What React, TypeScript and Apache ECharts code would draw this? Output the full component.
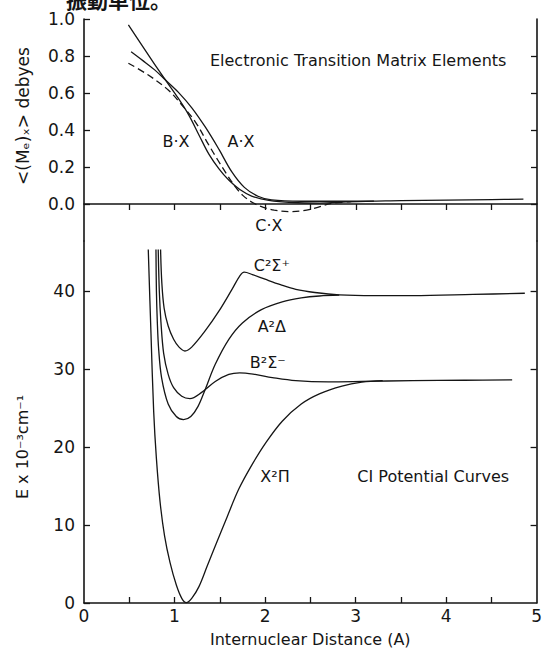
import React, { useEffect, useRef } from 'react';
import * as echarts from 'echarts';

// ---- axis ticks / labels ----
const xTickValues = [0.5, 1, 1.5, 2, 2.5, 3, 3.5, 4, 4.5];
const xLabelValues = [0, 1, 2, 3, 4, 5];
const topLabelValues = [0, 0.2, 0.4, 0.6, 0.8, 1.0];
const topRightTicks = [0, 0.2, 0.4, 0.6, 0.8];
const bottomLabelValues = [0, 10, 20, 30, 40];

// ---- top panel: electronic transition matrix elements (debyes) ----
const axData: [number, number][] = [
  [0.52, 0.823], [0.65, 0.775], [0.78, 0.725], [0.9, 0.67], [1.04, 0.605],
  [1.19, 0.52], [1.34, 0.415], [1.49, 0.295], [1.63, 0.175], [1.77, 0.09],
  [1.92, 0.042], [2.07, 0.022], [2.4, 0.015], [3.0, 0.015], [3.5, 0.018],
  [4.0, 0.021], [4.5, 0.024], [4.85, 0.026],
];
const bxData: [number, number][] = [
  [0.49, 0.968], [0.64, 0.858], [0.78, 0.755], [0.9, 0.67], [1.04, 0.572],
  [1.16, 0.478], [1.27, 0.372], [1.38, 0.268], [1.49, 0.19], [1.6, 0.128],
  [1.72, 0.078], [1.85, 0.043], [2.04, 0.02], [2.3, 0.008], [2.6, 0.005],
  [2.9, 0.011], [3.2, 0.016],
];
const cxData: [number, number][] = [
  [0.49, 0.761], [0.71, 0.697], [0.93, 0.616], [1.08, 0.535], [1.23, 0.443],
  [1.37, 0.325], [1.48, 0.235], [1.57, 0.165], [1.66, 0.1], [1.75, 0.048],
  [1.86, 0.008], [1.98, -0.018], [2.1, -0.033], [2.26, -0.041], [2.42, -0.036],
  [2.58, -0.018], [2.72, 0.002], [2.95, 0.013],
];

// ---- bottom panel: CI potential curves (E x 10^-3 cm^-1) ----
const xPiData: [number, number][] = [
  [0.71, 45.3], [0.74, 34.5], [0.77, 24.5], [0.8, 18.5], [0.84, 13.0],
  [0.89, 8.6], [0.95, 5.2], [1.02, 2.3], [1.08, 0.6], [1.13, 0.05],
  [1.19, 0.6], [1.27, 2.1], [1.36, 4.7], [1.46, 7.6], [1.58, 11.0],
  [1.71, 14.6], [1.855, 17.7], [2.0, 20.4], [2.19, 23.3], [2.4, 25.5],
  [2.6, 26.8], [2.85, 27.8], [3.07, 28.3], [3.3, 28.5],
];
const aDeltaData: [number, number][] = [
  [0.795, 45.3], [0.8, 40], [0.81, 36], [0.825, 32.5], [0.857, 28.9],
  [0.93, 25.5], [1.02, 23.9], [1.1, 23.5], [1.18, 23.9], [1.26, 25.2],
  [1.34, 27.4], [1.45, 30.6], [1.6, 33.8], [1.75, 35.9], [1.96, 37.6],
  [2.19, 38.6], [2.4, 39.1], [2.6, 39.35], [2.82, 39.45],
];
const bSigmaData: [number, number][] = [
  [0.82, 45.3], [0.832, 40], [0.85, 36], [0.88, 32], [0.93, 29.3],
  [0.99, 27.6], [1.08, 26.5], [1.17, 26.2], [1.3, 27.0], [1.45, 28.4],
  [1.6, 29.3], [1.72, 29.5], [1.89, 29.3], [2.08, 28.9], [2.34, 28.5],
  [2.7, 28.35], [3.07, 28.4], [3.63, 28.5], [4.2, 28.55], [4.73, 28.6],
];
const cSigmaData: [number, number][] = [
  [0.846, 45.3], [0.86, 41], [0.885, 37.8], [0.93, 35.5], [0.99, 33.8],
  [1.05, 32.8], [1.115, 32.3], [1.19, 32.8], [1.34, 34.9], [1.49, 37.4],
  [1.63, 40.1], [1.72, 41.9], [1.77, 42.4], [1.86, 42.1], [2.0, 41.5],
  [2.17, 40.8], [2.34, 40.2], [2.55, 39.8], [2.82, 39.5], [3.2, 39.4],
  [3.63, 39.4], [4.3, 39.55], [4.87, 39.7],
];

// ---- annotation texts (anchored in data space) ----
const topLabels = [
  { text: 'B·X', x: 1.015, y: 0.34 },
  { text: 'A·X', x: 1.733, y: 0.34 },
  { text: 'C·X', x: 2.04, y: -0.114 },
];
const bottomLabels = [
  { text: 'C²Σ⁺', x: 2.075, y: 43.2 },
  { text: 'A²Δ', x: 2.075, y: 35.5 },
  { text: 'B²Σ⁻', x: 2.03, y: 30.8 },
  { text: 'X²Π', x: 2.11, y: 16.2 },
];
const topTitle = { text: 'Electronic Transition Matrix Elements', x: 1.39, y: 0.778 };
const bottomTitle = { text: 'CI Potential Curves', x: 3.02, y: 16.2 };

export default function App() {
  const ref = useRef<HTMLDivElement>(null);
  useEffect(() => {
    const el = ref.current!;
    const chart = echarts.init(el, null, { renderer: 'svg' });
    const font = 'DejaVu Sans';
    const ink = '#151515';
    const axisLine = { show: true, lineStyle: { color: ink, width: 1.6 } };
    const tick = (vals: number[]) => ({
      show: true, inside: true, length: 6, customValues: vals,
      lineStyle: { color: ink, width: 1.3 },
    });
    const lineSeries = (data: [number, number][], xi: number, yi: number, dashed = false) => ({
      type: 'line', xAxisIndex: xi, yAxisIndex: yi, data,
      symbol: 'none', showSymbol: false, smooth: 0.35, silent: true,
      lineStyle: { color: ink, width: 1.3, type: dashed ? [7, 4] : 'solid' },
    });
    const option: any = {
      animation: false,
      backgroundColor: '#ffffff',
      grid: [
        { left: 84, right: 8, top: 19, height: 222 },
        { left: 84, right: 8, top: 241, height: 368 },
      ],
      xAxis: [
        {
          gridIndex: 0, type: 'value', min: 0, max: 5, interval: 0.5, position: 'top',
          axisLine, axisTick: tick(xTickValues), axisLabel: { show: false }, splitLine: { show: false },
        },
        {
          gridIndex: 1, type: 'value', min: 0, max: 5, interval: 0.5, position: 'bottom',
          axisLine, axisTick: tick(xTickValues),
          axisLabel: {
            customValues: xLabelValues, fontSize: 17, color: ink, fontFamily: font, margin: 4,
            formatter: (v: number) => (Number.isInteger(v) ? String(v) : ''),
          },
          splitLine: { show: false },
          name: 'Internuclear Distance (A)', nameLocation: 'middle', nameGap: 28,
          nameTextStyle: { fontSize: 16, color: ink, fontFamily: font },
        },
      ],
      yAxis: [
        {
          gridIndex: 0, type: 'value', min: -0.2, max: 1, interval: 0.2, position: 'left',
          axisLine, axisTick: tick(topLabelValues),
          axisLabel: {
            customValues: topLabelValues, fontSize: 17, color: ink, fontFamily: font, margin: 9,
            formatter: (v: number) => (v < -0.01 ? '' : v.toFixed(1)),
          },
          splitLine: { show: false },
        },
        {
          gridIndex: 0, type: 'value', min: -0.2, max: 1, interval: 0.2, position: 'right',
          axisLine, axisTick: tick(topRightTicks), axisLabel: { show: false }, splitLine: { show: false },
        },
        {
          gridIndex: 1, type: 'value', min: 0, max: 46.4, interval: 10, position: 'left',
          axisLine, axisTick: tick(bottomLabelValues),
          axisLabel: {
            customValues: bottomLabelValues, fontSize: 17, color: ink, fontFamily: font, margin: 9,
            formatter: (v: number) => (v > 45 ? '' : String(v)),
          },
          splitLine: { show: false },
        },
        {
          gridIndex: 1, type: 'value', min: 0, max: 46.4, interval: 10, position: 'right',
          axisLine, axisTick: tick(bottomLabelValues.slice(1)), axisLabel: { show: false }, splitLine: { show: false },
        },
      ],
      series: [
        lineSeries(axData, 0, 0),
        lineSeries(bxData, 0, 0),
        lineSeries(cxData, 0, 0, true),
        lineSeries(xPiData, 1, 2),
        lineSeries(aDeltaData, 1, 2),
        lineSeries(bSigmaData, 1, 2),
        lineSeries(cSigmaData, 1, 2),
      ],
    };
    chart.setOption(option);

    const px = (top: boolean, x: number, y: number) =>
      chart.convertToPixel(top ? { xAxisIndex: 0, yAxisIndex: 0 } : { xAxisIndex: 1, yAxisIndex: 2 }, [x, y]) as number[];
    const txt = (p: number[], text: string, align: string, size = 16, extra: any = {}) => ({
      type: 'text', x: p[0], y: p[1], silent: true, ...extra,
      style: { text, fill: ink, fontSize: size, fontFamily: font, align, verticalAlign: 'middle' },
    });
    const graphics: any[] = [];
    topLabels.forEach((l) => graphics.push(txt(px(true, l.x, l.y), l.text, 'center')));
    bottomLabels.forEach((l) => graphics.push(txt(px(false, l.x, l.y), l.text, 'center', 16)));
    graphics.push(txt(px(true, topTitle.x, topTitle.y), topTitle.text, 'left'));
    graphics.push(txt(px(false, bottomTitle.x, bottomTitle.y), bottomTitle.text, 'left'));
    graphics.push(txt([23, 116], '<(Mₑ)ₓ> debyes', 'center', 17, { rotation: Math.PI / 2 }));
    graphics.push(txt([22, 447], 'E x 10⁻³cm⁻¹', 'center', 16, { rotation: Math.PI / 2 }));
    graphics.push({
      type: 'text', x: 66, y: 9.5, silent: true,
      style: {
        text: '振動単位。', fill: ink, fontSize: 21, fontWeight: 'bold',
        fontFamily: 'Noto Sans CJK JP', align: 'left', verticalAlign: 'bottom',
      },
    });
    chart.setOption({ graphic: graphics });

    return () => chart.dispose();
  }, []);
  return (
    <div
      ref={ref}
      style={{ position: 'fixed', left: 0, top: 0, width: 545, height: 652, background: '#fff' }}
    />
  );
}
